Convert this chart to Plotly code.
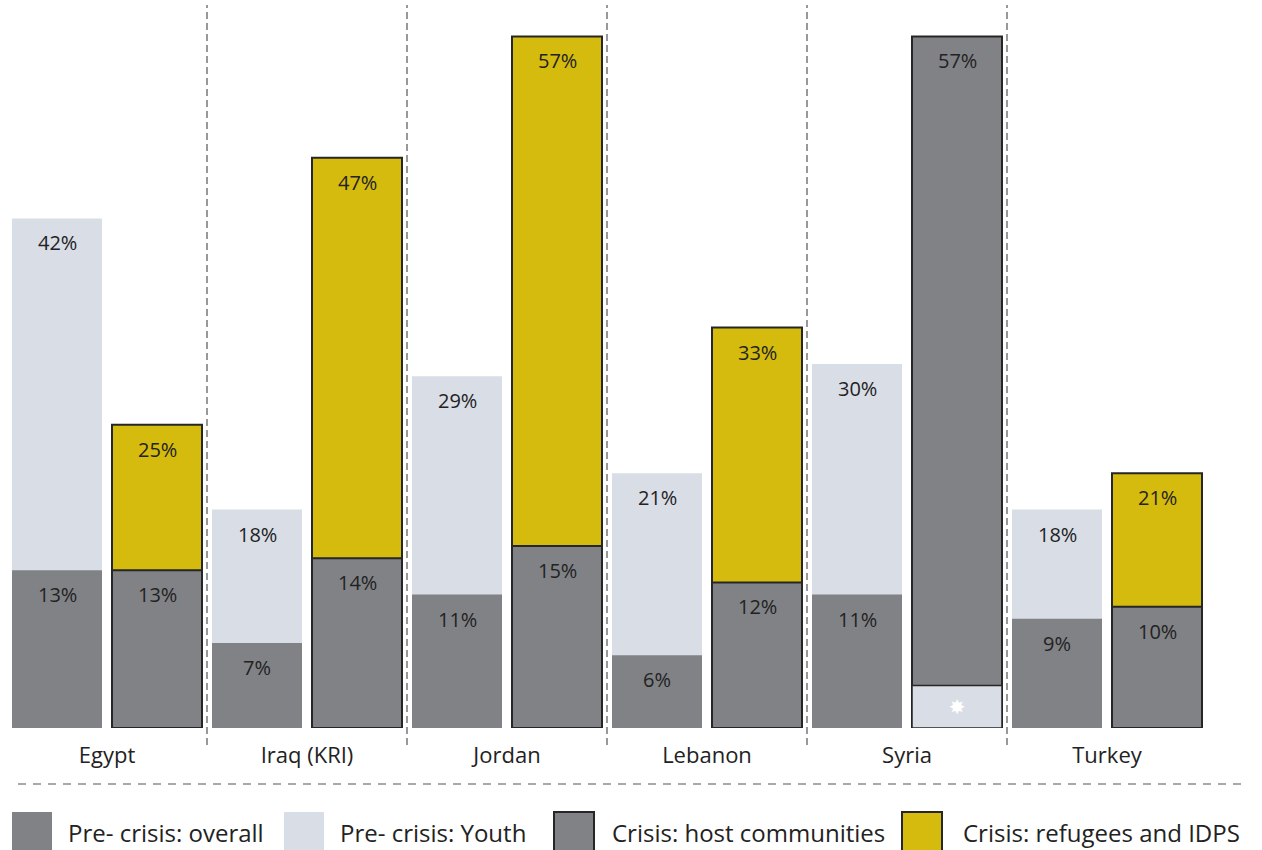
import plotly.graph_objects as go

countries = ["Egypt", "Iraq (KRI)", "Jordan", "Lebanon", "Syria", "Turkey"]
pre_overall = [13, 7, 11, 6, 11, 9]
pre_youth = [42, 18, 29, 21, 30, 18]
crisis_host = [13, 14, 15, 12, 57, 10]
crisis_refugees = [25, 47, 57, 33, None, 21]
not_available = [None, None, None, None, 3.5, None]   # Syria: no refugee figure (asterisk)

series_names = ["Pre- crisis: overall", "Pre- crisis: Youth",
                "Crisis: host communities", "Crisis: refugees and IDPS"]

C_GRAY = "#818286"
C_LIGHT = "#d9dde6"
C_YELLOW = "#d5bb0e"
C_LINE = "#262626"
FONT = "Open Sans"

W, H = 1262, 850
L, R, T, B = 7, 55, 0, 122
PW, PH = W - L - R, H - T - B

fig = go.Figure()
fig.add_bar(x=countries, y=pre_youth, name=series_names[1], offsetgroup="pre",
            marker=dict(color=C_LIGHT, line=dict(width=0)))
fig.add_bar(x=countries, y=pre_overall, name=series_names[0], offsetgroup="pre",
            marker=dict(color=C_GRAY, line=dict(width=0)))
fig.add_bar(x=countries, y=crisis_refugees, name=series_names[3], offsetgroup="crisis",
            marker=dict(color=C_YELLOW, line=dict(width=2, color=C_LINE)))
fig.add_bar(x=countries, y=crisis_host, name=series_names[2], offsetgroup="crisis",
            marker=dict(color=C_GRAY, line=dict(width=2, color=C_LINE)))
fig.add_bar(x=countries, y=not_available, name="n/a", offsetgroup="crisis",
            marker=dict(color=C_LIGHT, line=dict(width=1.5, color=C_LINE)),
            text=["✸" if v is not None else "" for v in not_available],
            textposition="inside", insidetextanchor="middle",
            textfont=dict(color="white", size=20, family="DejaVu Sans"), showlegend=False)

annotations = []
def add_labels(values, xshift):
    for c, v in zip(countries, values):
        if v is None:
            continue
        annotations.append(dict(x=c, y=v, xref="x", yref="y", text=f"{v}%",
                                showarrow=False, xshift=xshift, yshift=-9,
                                yanchor="top", font=dict(family=FONT, size=20, color="#222")))

add_labels(pre_youth, -50)
add_labels(pre_overall, -50)
add_labels(crisis_refugees, 50)
add_labels(crisis_host, 50)

def px_x(px):
    return (px - L) / PW

def px_y(py):
    return (H - B - py) / PH

shapes = []
for i in range(len(countries) - 1):
    shapes.append(dict(type="line", xref="x", yref="paper", x0=i + 0.5, x1=i + 0.5,
                       y0=px_y(745), y1=px_y(5),
                       line=dict(color="#555", width=1.2, dash="7px,4px")))
shapes.append(dict(type="line", xref="paper", yref="paper", x0=px_x(18), x1=px_x(1245),
                   y0=px_y(784), y1=px_y(784),
                   line=dict(color="#555", width=1.2, dash="8px,7px")))

# manual legend
legend_items = [
    (series_names[0], C_GRAY, None, 12, 66),
    (series_names[1], C_LIGHT, None, 284, 338),
    (series_names[2], C_GRAY, C_LINE, 554, 610),
    (series_names[3], C_YELLOW, C_LINE, 902, 961),
]
for name, col, lc, sx, tx in legend_items:
    shapes.append(dict(type="rect", xref="paper", yref="paper",
                       x0=px_x(sx), x1=px_x(sx + 40), y0=px_y(852), y1=px_y(812),
                       fillcolor=col,
                       line=dict(width=2 if lc else 0, color=lc or col)))
    annotations.append(dict(x=px_x(tx), y=px_y(832), xref="paper", yref="paper",
                            text=name, showarrow=False, xanchor="left", yanchor="middle",
                            font=dict(family=FONT, size=24, color="#222")))

fig.update_layout(
    width=W, height=H,
    margin=dict(l=L, r=R, t=T, b=B),
    barmode="group", bargap=0.0, bargroupgap=0.1,
    plot_bgcolor="white", paper_bgcolor="white",
    showlegend=False,
    shapes=shapes, annotations=annotations,
    xaxis=dict(showgrid=False, zeroline=False, showline=False,
               ticks="outside", ticklen=8, tickcolor="rgba(0,0,0,0)",
               tickfont=dict(family=FONT, size=22, color="#222")),
    yaxis=dict(range=[0, 60], visible=False),
)

fig.write_html("out.html")
